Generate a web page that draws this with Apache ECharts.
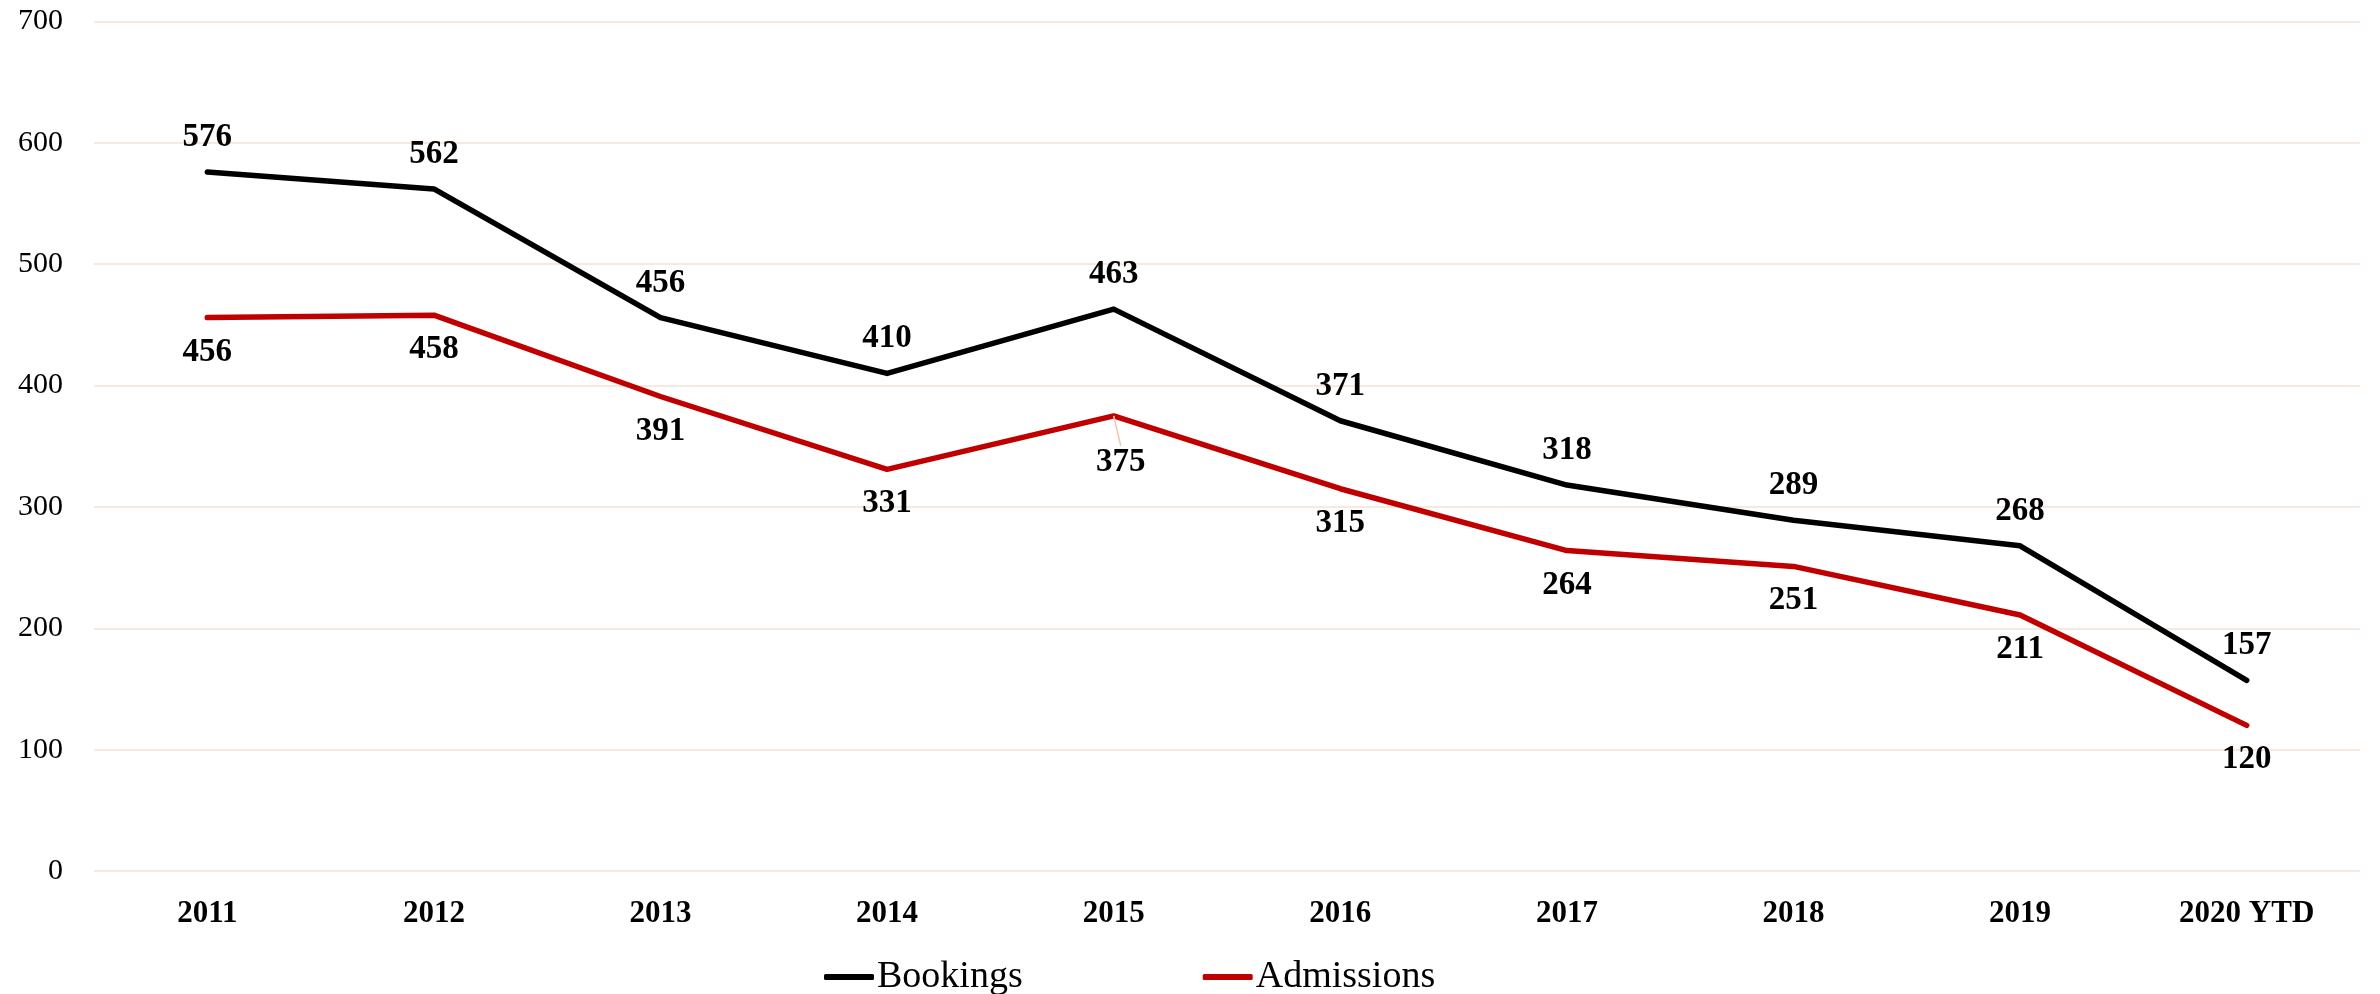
<!DOCTYPE html>
<html>
<head>
<meta charset="utf-8">
<script src="https://cdn.jsdelivr.net/npm/echarts@6/dist/echarts.min.js"></script>
<style>html,body{margin:0;padding:0;background:#fff}#c{width:2380px;height:994px}</style>
</head>
<body>
<div id="c"></div>
<script>
const categories = ['2011','2012','2013','2014','2015','2016','2017','2018','2019','2020 YTD'];
const bookings = [576, 562, 456, 410, 463, 371, 318, 289, 268, 157];
const admissions = [456, 458, 391, 331, 375, 315, 264, 251, 211, 120];
const yTicks = { min: 0, max: 700, interval: 100 };

const FONT = '"Liberation Serif", "DejaVu Serif", serif';
const chart = echarts.init(document.getElementById('c'));
chart.setOption({
  animation: false,
  textStyle: { fontFamily: FONT, color: '#000' },
  grid: { left: 94, right: 20, top: 21.5, bottom: 123, containLabel: false },
  legend: {
    left: 819, top: 953,
    itemWidth: 50, itemHeight: 6, itemGap: 180,
    icon: 'roundRect',
    textStyle: { fontFamily: FONT, fontSize: 38, color: '#000', padding: [0,0,0,-2] },
    data: ['Bookings', 'Admissions']
  },
  xAxis: {
    type: 'category', data: categories, boundaryGap: true,
    axisLine: { show: false }, axisTick: { show: false },
    axisLabel: { fontFamily: FONT, fontSize: 31, fontWeight: 'bold', color: '#000', margin: 27, interval: 0 }
  },
  yAxis: {
    type: 'value', min: yTicks.min, max: yTicks.max, interval: yTicks.interval,
    axisLine: { show: false }, axisTick: { show: false },
    axisLabel: { fontFamily: FONT, fontSize: 30, color: '#000', margin: 31 },
    splitLine: { lineStyle: { color: '#f6e2d6', width: 1.5 } }
  },
  series: [
    {
      name: 'Bookings', type: 'line', data: bookings,
      symbol: 'circle', symbolSize: 0.01, showSymbol: true, color: '#000',
      itemStyle: { color: '#000' },
      lineStyle: { width: 5.5, color: '#000', cap: 'round', join: 'round' },
      label: { show: true, position: 'top', distance: 18, fontFamily: FONT, fontSize: 33, fontWeight: 'bold', color: '#000' }
    },
    {
      name: 'Admissions', type: 'line',
      data: admissions.map((v, i) => i === 4
        ? { value: v, labelLine: { show: true, length2: 0, lineStyle: { color: '#f2c6a8', width: 1.5 } } }
        : v),
      symbol: 'circle', symbolSize: 0.01, showSymbol: true, color: '#c00000',
      itemStyle: { color: '#c00000' },
      lineStyle: { width: 5.5, color: '#c00000', cap: 'round', join: 'round' },
      label: { show: true, position: 'bottom', distance: 18, fontFamily: FONT, fontSize: 33, fontWeight: 'bold', color: '#000' },
      labelLayout: function (p) { return p.dataIndex === 4 ? { dx: 7, dy: 12 } : {}; }
    }
  ]
});
</script>
</body>
</html>
